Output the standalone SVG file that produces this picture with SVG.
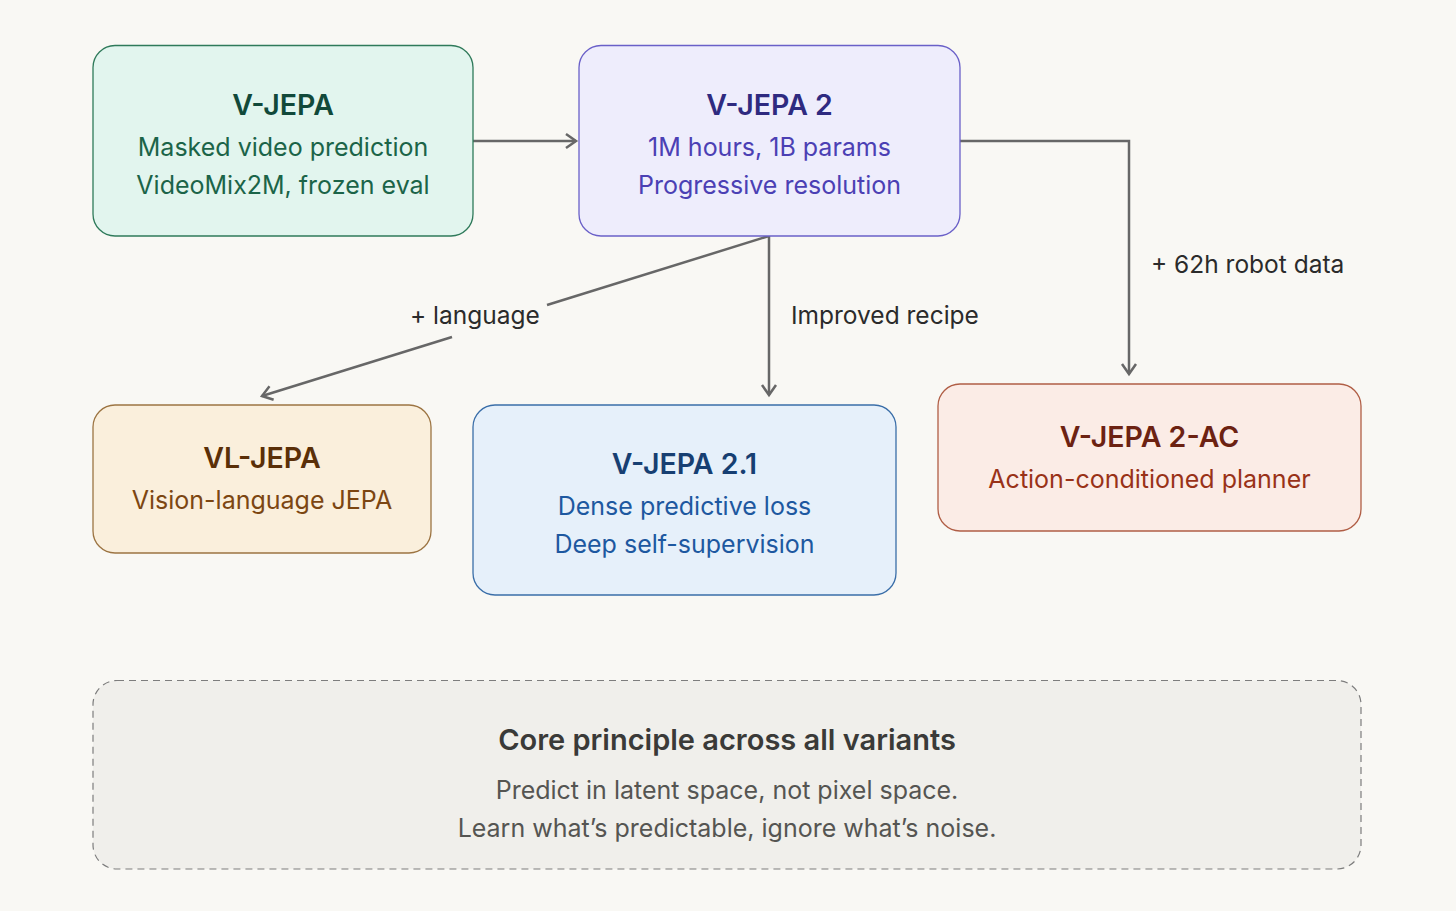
<svg xmlns="http://www.w3.org/2000/svg" width="1456" height="911" viewBox="0 0 1456 911">
<style>
text{font-family:Inter,"Open Sans","Liberation Sans",sans-serif;text-anchor:middle}
.t{font-size:28.5px;font-weight:600}
.s{font-size:25px;font-weight:400}
.l{font-size:24.5px;fill:#2b2b2b;text-anchor:start}
.c{fill:none;stroke:#676767;stroke-width:2.5}
</style>
<defs>
<marker id="ah" markerUnits="userSpaceOnUse" markerWidth="20" markerHeight="20" refX="12" refY="8" orient="auto" viewBox="0 0 20 16">
<path d="M2,1 L12,8 L2,15" fill="none" stroke="#676767" stroke-width="2.5"/>
</marker>
</defs>
<rect width="1456" height="911" fill="#f9f8f4"/>
<g id="connectors">
<path class="c" d="M473,141 H576" marker-end="url(#ah)"/>
<path class="c" d="M769,236 L547,305"/>
<path class="c" d="M452,337 L262,396" marker-end="url(#ah)"/>
<path class="c" d="M769,236 V395" marker-end="url(#ah)"/>
<path class="c" d="M960,141 H1129 V374" marker-end="url(#ah)"/>
<text class="l" x="410" y="324">+ language</text>
<text class="l" x="791" y="324">Improved recipe</text>
<text class="l" x="1151" y="273">+ 62h robot data</text>
</g>
<g id="vjepa">
<rect x="93" y="45.5" width="380" height="190.5" rx="22" fill="#e2f5ee" stroke="#2f7a5a" stroke-width="1.3"/>
<text class="t" x="283" y="115" fill="#11493a">V-JEPA</text>
<text class="s" x="283" y="156" fill="#1b6448">Masked video prediction</text>
<text class="s" x="283" y="194" fill="#1b6448">VideoMix2M, frozen eval</text>
</g>
<g id="vjepa2">
<rect x="579" y="45.5" width="381" height="190.5" rx="22" fill="#eeedfc" stroke="#6a60c8" stroke-width="1.3"/>
<text class="t" x="769.5" y="115" fill="#2e2a80">V-JEPA 2</text>
<text class="s" x="769.5" y="156" fill="#4b40b4">1M hours, 1B params</text>
<text class="s" x="769.5" y="194" fill="#4b40b4">Progressive resolution</text>
</g>
<g id="vljepa">
<rect x="93" y="405" width="338" height="148" rx="22" fill="#faefdc" stroke="#9c7442" stroke-width="1.3"/>
<text class="t" x="262" y="468" fill="#5a2f08">VL-JEPA</text>
<text class="s" x="262" y="509" fill="#7c4612">Vision-language JEPA</text>
</g>
<g id="vjepa21">
<rect x="473" y="405" width="423" height="190" rx="22" fill="#e6f0fa" stroke="#3a6ea8" stroke-width="1.3"/>
<text class="t" x="684.5" y="474" fill="#173f72">V-JEPA 2.1</text>
<text class="s" x="684.5" y="515" fill="#1d58a0">Dense predictive loss</text>
<text class="s" x="684.5" y="553" fill="#1d58a0">Deep self-supervision</text>
</g>
<g id="vjepa2ac">
<rect x="938" y="384" width="423" height="147" rx="22" fill="#fbece6" stroke="#b05e45" stroke-width="1.3"/>
<text class="t" x="1149.5" y="447" fill="#6c2212">V-JEPA 2-AC</text>
<text class="s" x="1149.5" y="488" fill="#993218">Action-conditioned planner</text>
</g>
<g id="core">
<rect x="93" y="680.5" width="1268" height="188.5" rx="24" fill="#f0efeb" stroke="#7d7d7d" stroke-width="1.2" stroke-dasharray="7 5"/>
<text x="727" y="750" font-size="29" font-weight="600" fill="#3a3a38">Core principle across all variants</text>
<text class="s" x="727" y="799" fill="#555552">Predict in latent space, not pixel space.</text>
<text class="s" x="727" y="837" fill="#555552">Learn what’s predictable, ignore what’s noise.</text>
</g>
</svg>
